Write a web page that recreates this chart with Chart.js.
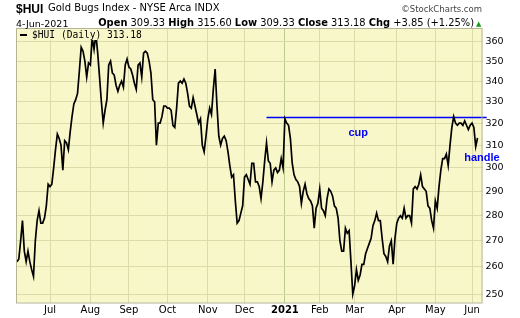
<!DOCTYPE html>
<html>
<head>
<meta charset="utf-8">
<script src="https://cdn.jsdelivr.net/npm/chart.js@4.4.0/dist/chart.umd.min.js"></script>
<style>
  html, body { margin: 0; padding: 0; background: #fff; }
  #wrap { position: relative; width: 520px; height: 318px; overflow: hidden; }
  #chart { position: absolute; left: 0; top: 0; }
  .txt { position: absolute; white-space: nowrap; line-height: 1; color: #000; font-family: "DejaVu Sans", sans-serif; }
  #sym { left: 16px; top: 1.5px; font: bold 12px "Liberation Sans", Arial, sans-serif; }
  #name { left: 48px; top: 3.2px; font-size: 10px; }
  #copy { right: 38px; top: 4.5px; font-size: 8.5px; color: #444; }
  #date { left: 16px; top: 18.6px; font-size: 9.5px; }
  #quote { right: 46px; top: 18.4px; font-size: 9.9px; }
  #quote b { font-weight: bold; }
  #tri { left: 476px; top: 20.5px; font-size: 7px; color: #1a9a1a; }
  #legend { left: 18px; top: 29px; height: 11px; padding: 0 2px 0 14px; background: #f8f7c9; font-family: "DejaVu Sans Mono", monospace; font-size: 9.6px; line-height: 11px; }
  #legend i { position: absolute; left: 2px; top: 5px; width: 7px; height: 2px; background: #000; }
</style>
</head>
<body>
<div id="wrap">
  <canvas id="chart" width="520" height="318"></canvas>
  <div class="txt" id="sym">$HUI</div>
  <div class="txt" id="name">Gold Bugs Index - NYSE Arca INDX</div>
  <div class="txt" id="copy">©StockCharts.com</div>
  <div class="txt" id="date">4-Jun-2021</div>
  <div class="txt" id="quote"><b>Open</b> 309.33 <b>High</b> 315.60 <b>Low</b> 309.33 <b>Close</b> 313.18 <b>Chg</b> +3.85 (+1.25%)</div>
  <div class="txt" id="tri">▲</div>
  <div class="txt" id="legend"><i></i>$HUI (Daily) 313.18</div>
</div>
<script>
// Daily closes, one small array per month (trading days only)
const close2020Jun = [262, 263, 270, 278, 266, 262, 266, 262, 259, 256.5, 270, 278, 282, 277, 277, 279, 284, 293];
const close2020Jul = [292, 293, 300, 308, 315, 313, 310, 299, 312, 311, 308, 316, 323, 329, 331, 334, 345, 357, 355, 350, 342, 349];
const close2020Aug = [348, 362, 356, 364, 354, 342, 330, 320, 326, 331, 348, 350, 344, 343, 338, 335, 338, 340, 337, 348, 351];
const close2020Sep = [347, 346, 343, 339, 336, 348, 349, 342, 354, 355, 354, 350, 344, 331, 330, 310, 320, 320, 323, 328, 328];
const close2020Oct = [327, 327, 326, 319, 318, 327, 339, 340, 339, 341, 339, 334, 328, 327, 332, 328, 324, 320, 322, 310, 307, 314];
const close2020Nov = [322, 327, 324, 336, 346, 328, 314, 310, 313, 314, 312, 307, 301, 296, 297, 286, 277, 278, 281, 284];
const close2020Dec = [296, 297, 295, 293, 302, 302, 294, 294, 292, 287, 294, 303, 311, 303, 302, 294, 299, 300, 298, 299, 304, 300];
const close2021Jan = [322, 320, 319, 313, 302, 297, 295, 294, 292, 285, 290, 293, 289, 287, 286, 284, 275, 283, 285];
const close2021Feb = [291, 283, 282, 280, 287, 291, 290, 288, 284, 283, 279, 270, 266, 266, 275, 273, 274, 262, 250];
const close2021Mar = [253, 259, 255, 257, 261, 261, 265, 267, 269, 271, 276, 278, 281, 278, 278, 271, 265, 264, 262, 268, 270, 261, 271];
const close2021Apr = [277, 279, 280, 279, 283, 279, 280, 280, 277, 291, 292, 291, 293, 297, 292, 291, 290, 284, 283, 278, 275];
const close2021May = [286, 283, 292, 299, 304, 304, 306, 301, 310, 318, 323, 320, 319, 320, 320, 319, 321, 319, 317, 319];
const close2021Jun = [320, 318, 309.33, 313.18];

// Month tick labels (first trading day of each month after the first one)
const monthLabels = ['Jul', 'Aug', 'Sep', 'Oct', 'Nov', 'Dec', '2021', 'Feb', 'Mar', 'Apr', 'May', 'Jun'];
const priceTicks = [250, 260, 270, 280, 290, 300, 310, 320, 330, 340, 350, 360];

// Cup & handle notes
const cupLevel = 322.6;
const cupStartDay = 136;
const cupEndDay = 256;
const cupNote = { text: 'cup', day: 186, price: 315.5 };
const handleNote = { text: 'handle', day: 253.4, price: 304.5 };

const months = [close2020Jun, close2020Jul, close2020Aug, close2020Sep, close2020Oct, close2020Nov,
    close2020Dec, close2021Jan, close2021Feb, close2021Mar, close2021Apr, close2021May, close2021Jun];
const closes = [].concat(...months);
const monthStarts = [];
let n = 0;
months.forEach(m => { monthStarts.push(n); n += m.length; });
const tickDays = monthStarts.slice(1);

const plotBg = '#f8f7c9';
const gridColor = '#dcdcaa';
const yearGrid = '#bccb8e';
const blue = '#0000ff';

// Background, frame and notes
const chartDecor = {
    id: 'chartDecor',
    beforeDraw(chart) {
        const { ctx, chartArea: a } = chart;
        ctx.save();
        ctx.fillStyle = plotBg;
        ctx.fillRect(a.left, a.top, a.right - a.left, a.bottom - a.top);
        ctx.restore();
    },
    afterDraw(chart) {
        const { ctx, chartArea: a, scales } = chart;
        ctx.save();
        ctx.strokeStyle = '#b4b496';
        ctx.lineWidth = 1;
        ctx.strokeRect(a.left + 0.5, a.top + 0.5, a.right - a.left - 1, a.bottom - a.top);
        ctx.fillStyle = blue;
        ctx.font = 'bold 11px "Liberation Sans", Arial, sans-serif';
        ctx.textAlign = 'center';
        ctx.textBaseline = 'middle';
        [cupNote, handleNote].forEach(nt => {
            ctx.fillText(nt.text, scales.x.getPixelForValue(nt.day), scales.y.getPixelForValue(nt.price));
        });
        ctx.restore();
    }
};

new Chart(document.getElementById('chart'), {
    type: 'line',
    data: {
        datasets: [
            {
                data: closes.map((v, i) => ({ x: i, y: v })),
                borderColor: '#000',
                borderWidth: 1.7,
                pointRadius: 0,
                tension: 0
            },
            {
                data: [{ x: cupStartDay, y: cupLevel }, { x: cupEndDay, y: cupLevel }],
                borderColor: blue,
                borderWidth: 1.5,
                pointRadius: 0,
                clip: { left: 0, top: 0, right: 6, bottom: 0 }
            }
        ]
    },
    options: {
        responsive: false,
        animation: false,
        layout: { padding: { left: 16, top: 28, right: 0, bottom: 0 } },
        plugins: { legend: { display: false }, tooltip: { enabled: false } },
        scales: {
            x: {
                type: 'linear',
                min: -0.53,
                max: 253.7,
                afterBuildTicks: scale => { scale.ticks = tickDays.map(v => ({ value: v })); },
                afterFit: scale => { scale.height = 15.5; },
                border: { display: false },
                grid: {
                    drawTicks: false,
                    color: ctx => (ctx.tick && monthLabels[ctx.index] === '2021') ? yearGrid : gridColor
                },
                ticks: {
                    autoSkip: false,
                    maxRotation: 0,
                    padding: 2,
                    color: '#000',
                    callback: (v, i) => monthLabels[i],
                    font: ctx => ({
                        family: '"DejaVu Sans", sans-serif',
                        size: 10,
                        weight: monthLabels[ctx.index] === '2021' ? 'bold' : 'normal'
                    })
                }
            },
            y: {
                type: 'logarithmic',
                position: 'right',
                min: 247,
                max: 367.1,
                afterBuildTicks: scale => { scale.ticks = priceTicks.map(v => ({ value: v })); },
                afterFit: scale => { scale.width = 37.5; },
                border: { display: false },
                grid: { drawTicks: false, color: gridColor },
                ticks: {
                    padding: 3,
                    color: '#000',
                    callback: v => String(v),
                    font: { family: '"DejaVu Sans", sans-serif', size: 9.5 }
                }
            }
        }
    },
    plugins: [chartDecor]
});
</script>
</body>
</html>
